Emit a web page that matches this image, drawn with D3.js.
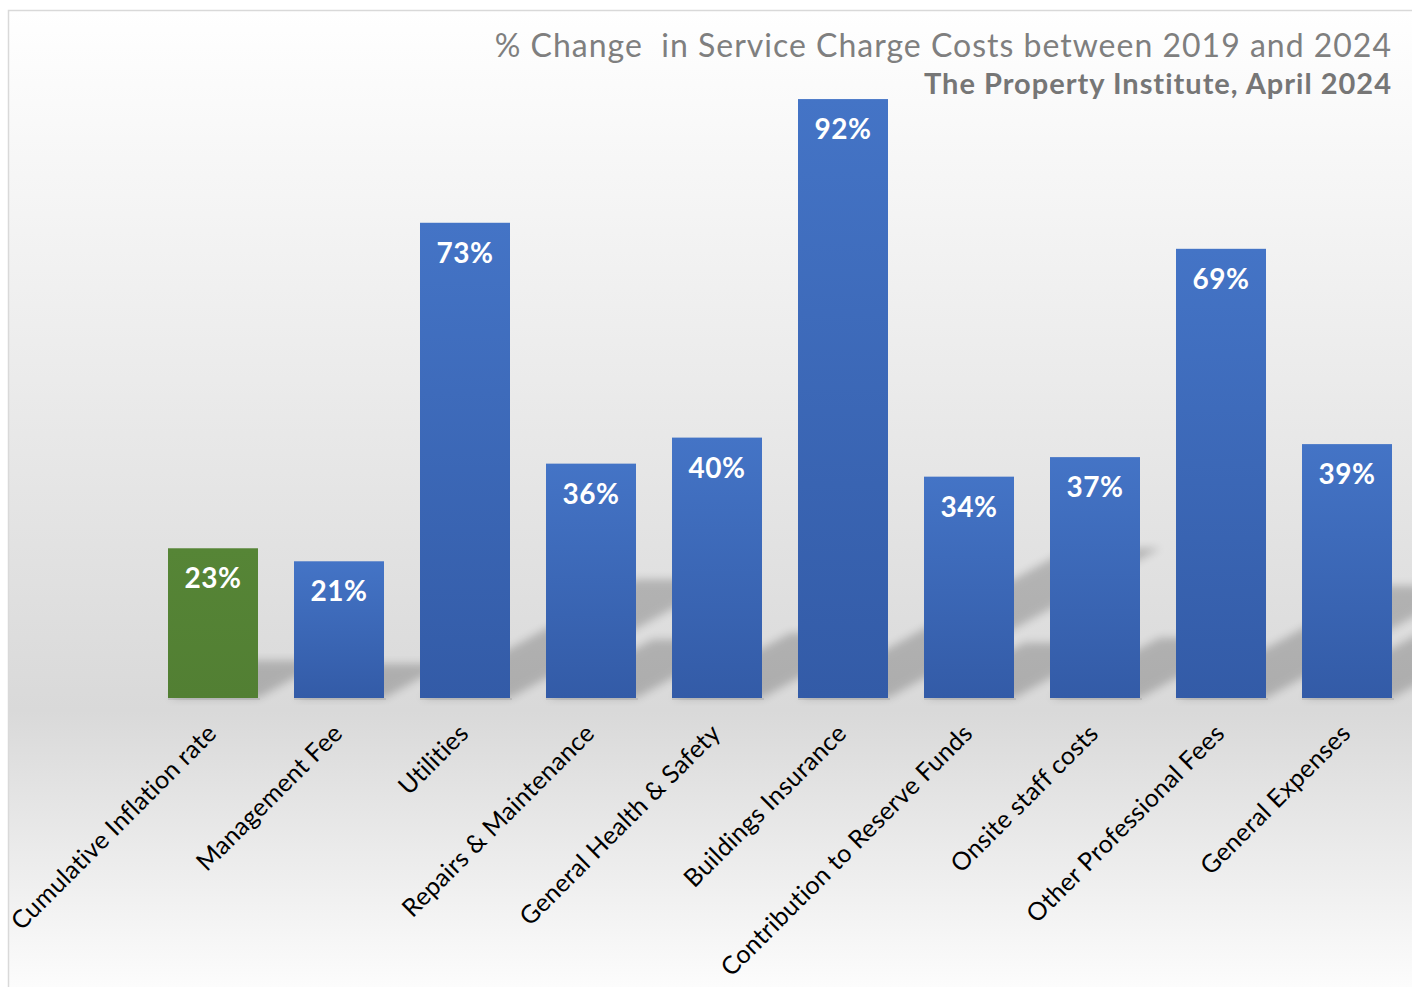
<!DOCTYPE html>
<html>
<head>
<meta charset="utf-8">
<script src="https://cdn.jsdelivr.net/npm/d3@7"></script>
<style>
  body { margin: 0; background: #fff; }
  svg { display: block; font-family: Lato, "Open Sans", sans-serif; }
</style>
</head>
<body>
<div id="chart"></div>
<script>
"use strict"

/* Data */
let categories = [
    "Cumulative Inflation rate",
    "Management Fee",
    "Utilities",
    "Repairs & Maintenance",
    "General Health & Safety",
    "Buildings Insurance",
    "Contribution to Reserve Funds",
    "Onsite staff costs",
    "Other Professional Fees",
    "General Expenses"
];
let changePct = [23, 21, 73, 36, 40, 92, 34, 37, 69, 39];
let isInflation = [true, false, false, false, false, false, false, false, false, false];

let titleText = "% Change  in Service Charge Costs between 2019 and 2024";
let subtitleText = "The Property Institute, April 2024";

/* Drawing config */
let svgWidth = 1412;
let svgHeight = 987;
let baseY = 698;

let svg = d3.select("#chart")
    .append("svg")
    .attr("width", svgWidth)
    .attr("height", svgHeight);

let defs = svg.append("defs");

/* background gradient: white -> gray -> white */
let bgGrad = defs.append("linearGradient")
    .attr("id", "bgGrad")
    .attr("x1", 0).attr("y1", 0).attr("x2", 0).attr("y2", 1);
bgGrad.append("stop").attr("offset", "0%").attr("stop-color", "#ffffff");
bgGrad.append("stop").attr("offset", "70%").attr("stop-color", "#d9d9d9");
bgGrad.append("stop").attr("offset", "100%").attr("stop-color", "#ffffff");

/* bar gradient */
let barGrad = defs.append("linearGradient")
    .attr("id", "barGrad")
    .attr("x1", 0).attr("y1", 0).attr("x2", 0).attr("y2", 1);
barGrad.append("stop").attr("offset", "0%").attr("stop-color", "#4474c6");
barGrad.append("stop").attr("offset", "100%").attr("stop-color", "#335ba7");

let greenGrad = defs.append("linearGradient")
    .attr("id", "greenGrad")
    .attr("x1", 0).attr("y1", 0).attr("x2", 0).attr("y2", 1);
greenGrad.append("stop").attr("offset", "0%").attr("stop-color", "#568536");
greenGrad.append("stop").attr("offset", "100%").attr("stop-color", "#527f33");

/* blur for perspective shadows */
defs.append("filter")
    .attr("id", "blur")
    .attr("x", "-20%").attr("y", "-20%")
    .attr("width", "140%").attr("height", "140%")
    .append("feGaussianBlur")
    .attr("stdDeviation", 4);

/* chart area with border */
svg.append("rect")
    .attr("x", 8.5)
    .attr("y", 10.5)
    .attr("width", 1430)
    .attr("height", 1000)
    .attr("fill", "url(#bgGrad)")
    .attr("stroke", "#d9d9d9")
    .attr("stroke-width", 1.5);

/* Scales */
let x = d3.scaleBand()
    .domain(categories)
    .range([150, 1410])
    .paddingInner(36 / 126)
    .paddingOuter(18 / 126);

let y = d3.scaleLinear()
    .domain([0, 100])
    .range([baseY, 47]);

let rows = categories.map(function (c, i) {
    return { name: c, value: changePct[i], inflation: isInflation[i] };
});

/* perspective shadows behind the bars */
svg.append("g")
    .selectAll("path")
    .data(rows)
    .join("path")
    .attr("d", function (d) {
        let x0 = x(d.name);
        let x1 = x0 + x.bandwidth();
        let h = baseY - y(d.value);
        let dy = 0.25 * h;
        let dx = dy / 0.55;
        return "M" + x0 + "," + baseY + "L" + x1 + "," + baseY +
            "L" + (x1 + dx) + "," + (baseY - dy) + "L" + (x0 + dx) + "," + (baseY - dy) + "Z";
    })
    .attr("fill", "#000")
    .attr("opacity", 0.2)
    .attr("filter", "url(#blur)");

/* thin soft line under each bar */
svg.append("g")
    .selectAll("rect")
    .data(rows)
    .join("rect")
    .attr("x", function (d) { return x(d.name); })
    .attr("y", baseY)
    .attr("width", x.bandwidth() + 2)
    .attr("height", 2)
    .attr("fill", "#000")
    .attr("opacity", 0.08);

/* bars */
svg.append("g")
    .selectAll("rect")
    .data(rows)
    .join("rect")
    .attr("x", function (d) { return x(d.name); })
    .attr("y", function (d) { return y(d.value); })
    .attr("width", x.bandwidth())
    .attr("height", function (d) { return baseY - y(d.value); })
    .attr("fill", function (d) { return d.inflation ? "url(#greenGrad)" : "url(#barGrad)"; });

/* value labels inside bars */
svg.append("g")
    .selectAll("text")
    .data(rows)
    .join("text")
    .attr("x", function (d) { return x(d.name) + x.bandwidth() / 2; })
    .attr("y", function (d) { return y(d.value) + 40; })
    .attr("text-anchor", "middle")
    .attr("fill", "#ffffff")
    .attr("font-weight", "bold")
    .attr("font-size", 28)
    .attr("letter-spacing", 0.5)
    .text(function (d) { return d.value + "%"; });

/* category labels, rotated */
svg.append("g")
    .selectAll("text")
    .data(rows)
    .join("text")
    .attr("transform", function (d) {
        let cx = x(d.name) + x.bandwidth() / 2 + 5;
        return "translate(" + cx + "," + 735 + ") rotate(-45)";
    })
    .attr("text-anchor", "end")
    .attr("fill", "#000")
    .attr("font-size", 25)
    .attr("letter-spacing", 0.3)
    .text(function (d) { return d.name; });

/* titles */
svg.append("text")
    .attr("x", 1392)
    .attr("y", 57)
    .attr("text-anchor", "end")
    .attr("fill", "#7f7f7f")
    .attr("font-size", 32)
    .attr("letter-spacing", 1)
    .style("white-space", "pre")
    .text(titleText);

svg.append("text")
    .attr("x", 1392)
    .attr("y", 94)
    .attr("text-anchor", "end")
    .attr("fill", "#767676")
    .attr("font-weight", "bold")
    .attr("font-size", 29)
    .attr("letter-spacing", 1)
    .text(subtitleText);
</script>
</body>
</html>
